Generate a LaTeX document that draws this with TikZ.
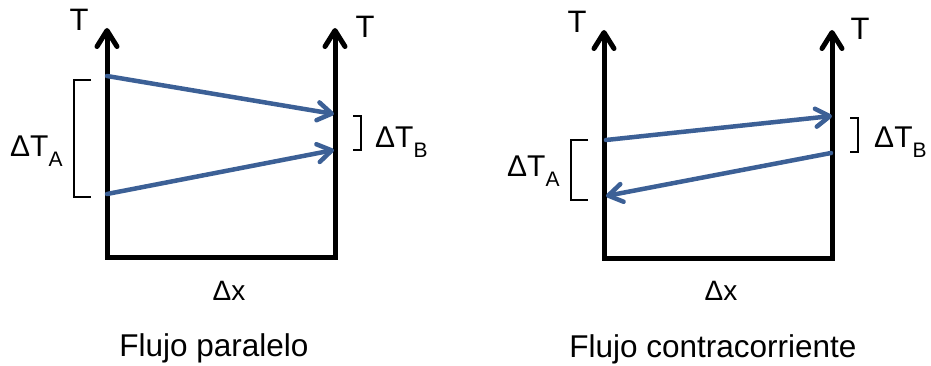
\documentclass[tikz,border=0pt]{standalone}
\usepackage{fontspec}
\setmainfont{Liberation Sans}
\usetikzlibrary{arrows.meta}
\definecolor{flowblue}{RGB}{60,96,150}
\tikzset{
  axisline/.style={line width=5pt, line join=miter, black,
    {Straight Barb[length=16pt,width=20pt,round]}-{Straight Barb[length=16pt,width=20pt,round]}},
  flowarrow/.style={line width=4.5pt, flowblue, line cap=round,
    -{Straight Barb[length=14pt,width=18pt,round]}},
  bracketline/.style={line width=1.4pt, black},
  axlabel/.style={inner sep=0pt, font=\fontsize{31}{35}\selectfont},
  dlabel/.style={inner sep=0pt, anchor=base west, font=\fontsize{30}{34}\selectfont},
  xlabel/.style={inner sep=0pt, font=\fontsize{28}{32}\selectfont},
  caption/.style={inner sep=0pt, anchor=base, font=\fontsize{31.5}{36}\selectfont},
}
\newcommand{\dsub}[1]{\raisebox{-10pt}{\fontsize{21}{24}\selectfont #1}}
\begin{document}
\begin{tikzpicture}[x=1pt,y=-1pt]
\useasboundingbox (0,0) rectangle (931,366);
% ---------- Left: Flujo paralelo ----------
\coordinate (L1top) at (107,28);
\coordinate (L1bot) at (107,257);
\coordinate (L2bot) at (335,257);
\coordinate (L2top) at (335,28);
\draw[axisline] (L1top) -- (L1bot) -- (L2bot) -- (L2top);
\node[axlabel] (LT1) at (79,20) {T};
\node[axlabel] (LT2) at (365,27) {T};
\coordinate (LhotS) at (107,76);
\coordinate (LhotE) at (334,114);
\coordinate (LcoldS) at (107,194);
\coordinate (LcoldE) at (334,150);
\draw[flowarrow] (LhotS) -- (LhotE);
\draw[flowarrow] (LcoldS) -- (LcoldE);
\coordinate (LbAa) at (91,80);
\coordinate (LbAb) at (91,197);
\draw[bracketline] (LbAa) -- ++(-17,0) |- (LbAb);
\coordinate (LbBa) at (353,116);
\coordinate (LbBb) at (353,150);
\draw[bracketline] (LbBa) -- ++(8,0) |- (LbBb);
\node[dlabel] (LdTA) at (10,157) {ΔT\dsub{A}};
\node[dlabel] (LdTB) at (375,148) {ΔT\dsub{B}};
\node[xlabel] (Ldx) at (229,291) {Δx};
\node[caption] (Lcap) at (214,356) {Flujo paralelo};
% ---------- Right: Flujo contracorriente ----------
\coordinate (R1top) at (604,30);
\coordinate (R1bot) at (604,258);
\coordinate (R2bot) at (832,258);
\coordinate (R2top) at (832,30);
\draw[axisline] (R1top) -- (R1bot) -- (R2bot) -- (R2top);
\node[axlabel] (RT1) at (577,22) {T};
\node[axlabel] (RT2) at (860,29) {T};
\coordinate (RhotS) at (606,140);
\coordinate (RhotE) at (832,116);
\coordinate (RcoldS) at (831,153);
\coordinate (RcoldE) at (606,196);
\draw[flowarrow] (RhotS) -- (RhotE);
\draw[flowarrow] (RcoldS) -- (RcoldE);
\coordinate (RbAa) at (588,140);
\coordinate (RbAb) at (588,200);
\draw[bracketline] (RbAa) -- ++(-17,0) |- (RbAb);
\coordinate (RbBa) at (850,118);
\coordinate (RbBb) at (850,152);
\draw[bracketline] (RbBa) -- ++(8,0) |- (RbBb);
\node[dlabel] (RdTA) at (507,177) {ΔT\dsub{A}};
\node[dlabel] (RdTB) at (874,148) {ΔT\dsub{B}};
\node[xlabel] (Rdx) at (721,291) {Δx};
\node[caption] (Rcap) at (713,357) {Flujo contracorriente};
\end{tikzpicture}
\end{document}
